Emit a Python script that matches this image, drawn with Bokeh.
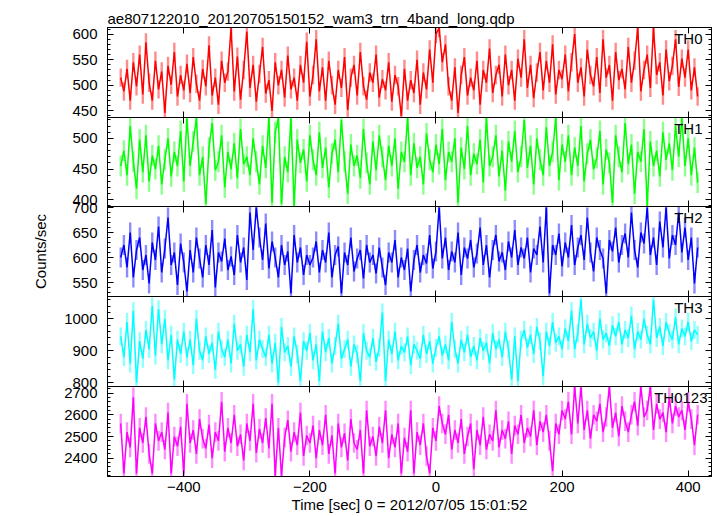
import numpy as np
from bokeh.plotting import figure
from bokeh.models import (Range1d, LinearAxis, SingleIntervalTicker, Label,
                          ColumnDataSource, CustomJSTickFormatter)
from bokeh.layouts import column
from bokeh.embed import file_html
from bokeh.resources import INLINE

# ---------------- data ----------------
title_text = "ae807122010_20120705150152_wam3_trn_4band_long.qdp"
xlabel_text = "Time [sec] 0 = 2012/07/05 15:01:52"
ylabel_text = "Counts/sec"

time_start = -500.0   # first bin time [s]
time_step = 5.0       # bin step [s]

panel_names = ["TH0", "TH1", "TH2", "TH3", "TH0123"]
panel_colors = ["#ff0000", "#00ff00", "#0000ff", "#00ffff", "#ff00ff"]
panel_ylo = [437, 389, 522, 788, 2316]
panel_yhi = [613, 534, 702, 1070, 2730]
panel_tick_step = [50, 50, 50, 100, 100]
panel_err = [18, 17, 20, 28, 45]

th0 = [515, 488, 532, 470, 545, 498, 560, 482, 584, 505, 470, 548, 492, 527, 446, 538, 501, 565, 478, 520, 490,
       542, 485, 555, 503, 470, 532, 498, 578, 480, 515, 462, 548, 505, 527, 612, 488, 556, 472, 530, 605,
       495, 540, 468, 522, 575, 484, 510, 450, 545, 500, 530, 476, 558, 492, 515, 470, 540, 505, 585, 478,
       520, 590, 488, 535, 470, 548, 500, 462, 530, 495, 555, 452, 515, 540, 480, 565, 498, 472, 525, 505,
       560, 476, 512, 490, 545, 468, 520, 498, 440, 532, 470, 510, 485, 550, 462, 525, 492, 570, 505, 600,
       612, 545, 580, 498, 470, 535, 446, 520, 555, 480, 515, 490, 548, 462, 530, 505, 572, 485, 520, 540,
       478, 560, 500, 530, 470, 552, 515, 590, 495, 540, 475, 525, 565, 490, 548, 505, 580, 482, 530, 512,
       560, 488, 545, 600, 505, 535, 478, 570, 520, 498, 555, 485, 590, 515, 540, 470, 565, 510, 532, 492,
       575, 505, 548, 612, 488, 530, 560, 495, 612, 520, 545, 480, 570, 508, 538, 590, 497, 552, 515, 570, 490, 535, 478]

th1 = [455, 480, 440, 520, 462, 418, 498, 445, 505, 430, 472, 450, 488, 425, 465, 500, 438, 478, 455, 512, 430,
       533, 455, 495, 533, 440, 470, 393, 485, 525, 448, 462, 505, 420, 478, 450, 492, 435, 515, 458, 470,
       440, 500, 462, 425, 488, 452, 533, 395, 510, 533, 393, 470, 445, 533, 390, 498, 460, 482, 430, 505,
       465, 440, 510, 452, 485, 420, 475, 498, 445, 530, 462, 410, 490, 455, 472, 435, 515, 460, 425, 495,
       448, 505, 470, 432, 488, 455, 500, 418, 478, 462, 533, 440, 492, 452, 470, 425, 508, 465, 445, 490,
       458, 515, 432, 478, 462, 500, 395, 485, 450, 520, 440, 475, 458, 498, 428, 533, 455, 470, 505, 438,
       480, 415, 495, 462, 512, 445, 470, 530, 452, 488, 425, 500, 465, 440, 518, 455, 478, 533, 432, 490,
       462, 505, 440, 485, 455, 520, 430, 475, 498, 450, 468, 512, 425, 482, 460, 395, 505, 470, 445, 525,
       458, 490, 410, 478, 462, 515, 390, 495, 455, 480, 438, 510, 465, 492, 448, 520, 470, 533, 455, 500, 440, 485, 428]

th2 = [600, 625, 580, 650, 560, 615, 640, 575, 605, 548, 630, 595, 662, 570, 618, 680, 585, 610, 545, 628, 590,
       532, 615, 570, 640, 598, 560, 625, 585, 655, 540, 610, 592, 638, 575, 602, 565, 645, 590, 620, 555,
       690, 615, 700, 640, 595, 668, 578, 632, 600, 560, 625, 585, 612, 528, 645, 590, 620, 565, 605, 585,
       600, 632, 570, 615, 590, 650, 560, 605, 622, 528, 610, 585, 640, 572, 598, 615, 558, 625, 590, 605,
       568, 620, 580, 545, 610, 590, 635, 560, 600, 575, 618, 532, 595, 625, 570, 605, 588, 645, 578, 612,
       700, 598, 640, 575, 612, 590, 650, 565, 620, 598, 635, 580, 608, 660, 585, 625, 560, 615, 645, 592,
       610, 575, 632, 600, 655, 585, 620, 598, 640, 570, 618, 605, 662, 590, 700, 528, 625, 605, 648, 582,
       630, 600, 665, 585, 620, 645, 595, 680, 610, 572, 640, 615, 598, 528, 635, 612, 660, 590, 625, 648,
       600, 690, 615, 580, 650, 628, 700, 605, 640, 585, 672, 620, 700, 598, 645, 625, 690, 610, 660, 595, 640, 548, 620]

th3 = [945, 880, 990, 860, 1025, 800, 930, 875, 965, 905, 1040, 885, 1030, 920, 1000, 870, 950, 810, 935, 890, 960,
       880, 935, 855, 1000, 900, 870, 945, 890, 925, 840, 960, 905, 880, 935, 860, 985, 900, 920, 850, 950,
       895, 1030, 870, 935, 905, 880, 950, 860, 925, 800, 975, 895, 915, 850, 945, 890, 805, 930, 900, 955,
       870, 920, 805, 960, 895, 940, 860, 915, 985, 875, 905, 935, 850, 920, 890, 805, 955, 900, 880, 940,
       865, 910, 1020, 805, 935, 890, 960, 870, 915, 895, 945, 855, 920, 900, 875, 950, 890, 930, 860, 910,
       945, 885, 920, 870, 990, 905, 860, 935, 895, 950, 880, 915, 870, 940, 900, 925, 860, 955, 905, 935,
       880, 960, 905, 810, 945, 805, 935, 965, 910, 950, 890, 975, 930, 820, 960, 915, 990, 925, 945, 905,
       970, 930, 1025, 905, 955, 1060, 920, 985, 940, 960, 900, 1000, 935, 955, 915, 980, 945, 990, 920, 965,
       940, 1010, 905, 960, 935, 1000, 950, 920, 1060, 940, 975, 915, 990, 955, 935, 1005, 920, 970, 945, 990, 930, 965, 950]

th0123 = [2560, 2330, 2520, 2450, 2680, 2330, 2540, 2470, 2590, 2420, 2330, 2560, 2480, 2520, 2440, 2610, 2330, 2500, 2455, 2545, 2330,
          2650, 2470, 2530, 2420, 2580, 2490, 2445, 2555, 2400, 2520, 2480, 2660, 2430, 2540, 2470, 2600, 2455, 2510, 2390, 2560,
          2480, 2650, 2425, 2535, 2470, 2585, 2445, 2650, 2320, 2540, 2320, 2495, 2575, 2430, 2520, 2460, 2610, 2410, 2505, 2470,
          2550, 2400, 2530, 2460, 2600, 2420, 2505, 2330, 2560, 2450, 2515, 2390, 2580, 2470, 2440, 2530, 2330, 2620, 2455, 2500,
          2410, 2545, 2470, 2620, 2400, 2510, 2450, 2560, 2330, 2495, 2430, 2620, 2330, 2520, 2460, 2560, 2410, 2330, 2540, 2480,
          2640, 2560, 2510, 2600, 2440, 2530, 2470, 2580, 2420, 2500, 2560, 2350, 2530, 2460, 2590, 2440, 2510, 2480, 2620, 2450,
          2530, 2490, 2570, 2420, 2550, 2510, 2600, 2470, 2540, 2500, 2620, 2460, 2570, 2520, 2600, 2480, 2340, 2560, 2510, 2620,
          2580, 2660, 2510, 2729, 2560, 2729, 2530, 2620, 2490, 2600, 2570, 2650, 2520, 2590, 2729, 2540, 2610, 2500, 2640, 2570,
          2520, 2600, 2660, 2550, 2729, 2590, 2620, 2729, 2530, 2650, 2580, 2610, 2520, 2680, 2560, 2640, 2590, 2620, 2530, 2660, 2580, 2460, 2600]

series = [th0, th1, th2, th3, th0123]

# ---------------- layout ----------------
FONT = "Liberation Sans"
FS = "15px"
FRAME_W = 604
LEFT = 107
RIGHT = 6
OVER = 10                        # transparent border that overlaps neighbours
frame_h = [90, 89, 90, 90, 90]
border_top = [27, OVER, OVER, OVER, OVER]
border_bottom = [OVER, OVER, OVER, OVER, 40]

xr = Range1d(-521, 437)
minus_fmt = "return tick < 0 ? '\u2212' + Math.abs(tick) : String(tick);"


def style_axis(ax, labels):
    ax.major_tick_in = 6
    ax.major_tick_out = 0
    ax.minor_tick_in = 3
    ax.minor_tick_out = 0
    ax.axis_line_color = "black"
    ax.major_tick_line_color = "black"
    ax.minor_tick_line_color = "black"
    if labels:
        ax.major_label_text_font = FONT
        ax.major_label_text_font_size = FS
        ax.major_label_text_color = "black"
    else:
        ax.major_label_text_color = None
        ax.major_label_text_font_size = "0px"
        ax.major_label_standoff = 0


figs = []
for k in range(5):
    vals = np.asarray(series[k], dtype=float)
    t = time_start + time_step * np.arange(len(vals))
    err = panel_err[k]
    src = ColumnDataSource(dict(t=t, y=vals, lo=vals - err, hi=vals + err))

    p = figure(width=LEFT + FRAME_W + RIGHT,
               height=border_top[k] + frame_h[k] + border_bottom[k],
               x_range=xr, y_range=Range1d(panel_ylo[k], panel_yhi[k]),
               output_backend="svg", toolbar_location=None,
               x_axis_location=None, y_axis_location=None,
               min_border_left=LEFT, min_border_right=RIGHT,
               min_border_top=border_top[k], min_border_bottom=border_bottom[k])
    if k > 0:
        p.margin = (-2 * OVER, 0, 0, 0)
    p.grid.visible = False
    p.outline_line_color = "black"
    p.outline_line_width = 1
    p.background_fill_color = "white"
    p.border_fill_color = None
    p.border_fill_alpha = 0

    if k == 0:
        p.title.text = title_text
        p.title.text_font = FONT
        p.title.text_font_size = FS
        p.title.text_font_style = "normal"
        p.title.text_color = "black"
        p.title.align = "left"
        p.title.standoff = 2
        p.title.offset = 0

    yt = SingleIntervalTicker(interval=panel_tick_step[k], num_minor_ticks=5)
    xt = SingleIntervalTicker(interval=200, num_minor_ticks=0)

    yl = LinearAxis(ticker=yt)
    style_axis(yl, True)
    yl.major_label_standoff = 10
    if k == 2:
        yl.axis_label = ylabel_text
        yl.axis_label_text_font = FONT
        yl.axis_label_text_font_size = FS
        yl.axis_label_text_font_style = "normal"
        yl.axis_label_text_color = "black"
        yl.axis_label_standoff = 20
    p.add_layout(yl, "left")

    yr_ax = LinearAxis(ticker=yt)
    style_axis(yr_ax, False)
    p.add_layout(yr_ax, "right")

    xa = LinearAxis(ticker=xt)
    style_axis(xa, False)
    p.add_layout(xa, "above")

    xb = LinearAxis(ticker=xt)
    if k == 4:
        style_axis(xb, True)
        xb.formatter = CustomJSTickFormatter(code=minus_fmt)
        xb.major_label_standoff = 5
        xb.axis_label = xlabel_text
        xb.axis_label_text_font = FONT
        xb.axis_label_text_font_size = FS
        xb.axis_label_text_font_style = "normal"
        xb.axis_label_text_color = "black"
        xb.axis_label_standoff = 1
    else:
        style_axis(xb, False)
    p.add_layout(xb, "below")

    col = panel_colors[k]
    p.segment(x0="t", y0="lo", x1="t", y1="hi", source=src,
              line_color=col, line_alpha=0.45, line_width=2.4)
    p.line(x="t", y="y", source=src, line_color=col, line_width=1.5)

    lab = Label(x=xr.end, y=panel_yhi[k], text=panel_names[k],
                x_offset=-4 if k == 4 else -9, y_offset=-2,
                text_align="right", text_baseline="top",
                text_font=FONT, text_font_size=FS, text_color="black")
    p.add_layout(lab)
    figs.append(p)

layout = column(*figs, spacing=0)
open("out.html", "w").write(file_html(layout, INLINE, title="WAM light curve"))
